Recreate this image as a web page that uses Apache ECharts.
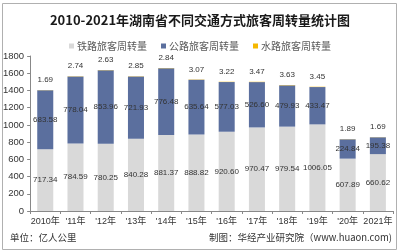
<!DOCTYPE html>
<html>
<head>
<meta charset="utf-8">
<title>2010-2021年湖南省不同交通方式旅客周转量统计图</title>
<style>
  html, body { margin: 0; padding: 0; background: #fff; }
  #chart { width: 400px; height: 252px; }
</style>
</head>
<body>
<div id="chart"></div>
<script src="https://cdn.jsdelivr.net/npm/echarts@6/dist/echarts.min.js"></script>
<script>
var years = ['2010年', "'11年", "'12年", "'13年", "'14年", "'15年", "'16年", "'17年", "'18年", "'19年", "'20年", '2021年'];
var rail = [717.34, 784.59, 780.25, 840.28, 881.37, 888.82, 920.60, 970.47, 979.54, 1006.05, 607.89, 660.62];
var road = [683.58, 778.04, 853.96, 721.93, 776.48, 635.64, 577.03, 526.60, 479.93, 433.47, 224.84, 195.38];
var water = [1.69, 2.74, 2.63, 2.85, 2.84, 3.07, 3.22, 3.47, 3.63, 3.45, 1.89, 1.69];

var font = '"Liberation Sans", Arial, "Noto Sans CJK SC", sans-serif';
var cjk = '"Noto Sans CJK SC", sans-serif';

var chart = echarts.init(document.getElementById('chart'));

function fmt(p) { return p.value.toFixed(2); }

chart.setOption({
  animation: false,
  title: {
    text: '2010-2021年湖南省不同交通方式旅客周转量统计图',
    left: 'center',
    top: 9,
    textStyle: { fontFamily: cjk, fontSize: 13, fontWeight: 'bold', color: '#1a1a1a' }
  },
  legend: {
    top: 36,
    left: 'center',
    itemWidth: 5,
    itemHeight: 5,
    itemGap: 14,
    icon: 'rect',
    textStyle: { fontFamily: cjk, fontSize: 10, color: '#595959', padding: [0, 0, 0, -2] },
    data: ['铁路旅客周转量', '公路旅客周转量', '水路旅客周转量']
  },
  grid: { left: 30, right: 7, top: 56, bottom: 41, containLabel: false },
  xAxis: {
    type: 'category',
    data: years,
    axisLine: { lineStyle: { color: '#888' } },
    axisTick: { show: true, length: 3, lineStyle: { color: '#888' } },
    axisLabel: { fontFamily: font, fontSize: 9, color: '#333', margin: 6, interval: 0 }
  },
  yAxis: {
    type: 'value',
    min: 0,
    max: 1800,
    interval: 200,
    axisLine: { show: true, lineStyle: { color: '#888' } },
    axisTick: { show: true, length: 3, lineStyle: { color: '#888' } },
    splitLine: { show: false },
    axisLabel: { fontFamily: font, fontSize: 9.5, color: '#333', margin: 6, formatter: function (v) { return String(v); } }
  },
  series: [
    {
      name: '铁路旅客周转量',
      type: 'bar',
      stack: 'all',
      data: rail,
      barWidth: '53%',
      itemStyle: { color: '#d9d9d9' },
      label: { show: true, position: 'inside', formatter: fmt, fontFamily: font, fontSize: 8, color: '#333' }
    },
    {
      name: '公路旅客周转量',
      type: 'bar',
      stack: 'all',
      data: road,
      itemStyle: { color: '#5b6f9e' },
      label: { show: true, position: 'inside', formatter: fmt, fontFamily: font, fontSize: 8, color: '#333' }
    },
    {
      name: '水路旅客周转量',
      type: 'bar',
      stack: 'all',
      data: water,
      itemStyle: { color: '#f5b800' },
      label: { show: true, position: 'top', distance: 6, formatter: fmt, fontFamily: font, fontSize: 8, color: '#333' }
    }
  ],
  graphic: [
    {
      type: 'rect',
      shape: { x: 2.5, y: 3.5, width: 394, height: 246 },
      style: { fill: 'none', stroke: '#b0b0b0', lineWidth: 1 },
      silent: true
    },
    {
      type: 'text',
      left: 10,
      top: 233,
      style: { text: '单位：亿人公里', fontFamily: cjk, fontSize: 9.5, fill: '#333' }
    },
    {
      type: 'text',
      right: 8,
      top: 233,
      style: { text: '制图：华经产业研究院（www.huaon.com)', fontFamily: cjk, fontSize: 9.5, fill: '#333' }
    }
  ]
});
</script>
</body>
</html>
